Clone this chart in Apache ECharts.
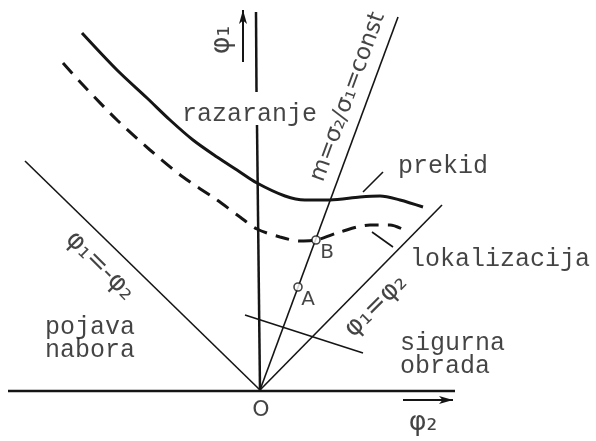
<!DOCTYPE html>
<html>
<head>
<meta charset="utf-8">
<script src="https://cdn.jsdelivr.net/npm/echarts@6/dist/echarts.min.js"></script>
<style>
  html, body { margin: 0; padding: 0; background: #fff; }
  #chart { width: 596px; height: 441px; }
</style>
</head>
<body>
<div id="chart"></div>
<script>
// strain plane, origin O at (0,0); phi2 to the right, phi1 up
const solidCurve = [
  [-1.78, 3.57], [-1.43, 3.20], [-1.13, 2.92], [-0.90, 2.70], [-0.67, 2.50],
  [-0.43, 2.33], [-0.23, 2.20], [-0.03, 2.07], [0.25, 1.94], [0.45, 1.90],
  [0.70, 1.90], [1.00, 1.93], [1.20, 1.94], [1.40, 1.90], [1.63, 1.83]
];
const dashedCurve = [
  [-1.97, 3.27], [-1.77, 3.05], [-1.43, 2.70], [-1.10, 2.40], [-0.77, 2.13],
  [-0.43, 1.90], [-0.20, 1.73], [-0.03, 1.61], [0.20, 1.53], [0.40, 1.49],
  [0.56, 1.50], [0.80, 1.58], [1.10, 1.65], [1.30, 1.65], [1.48, 1.58]
];
const axisPhi2 = [[-2.52, -0.01], [1.95, -0.01]];
const axisPhi1Top = [[-0.04, 3.78], [-0.035, 2.98]];
const axisPhi1Bottom = [[-0.03, 2.65], [0, 0]];
const arrowPhi1 = [[-0.17, 3.28], [-0.17, 3.80]];
const arrowPhi2 = [[1.43, -0.10], [1.93, -0.10]];
const lineNeg = [[-2.35, 2.29], [0, 0]];     // phi1 = -phi2
const lineEq = [[0, 0], [1.82, 1.85]];       // phi1 = phi2
const lineM = [[0, 0], [1.38, 3.73]];        // m = const
const leaderPrekid = [[1.03, 1.98], [1.23, 2.18]];
const leaderLokal = [[1.12, 1.58], [1.33, 1.43]];
const safeLimit = [[-0.15, 0.75], [1.03, 0.37]];
const points = [
  { name: 'A', at: [0.38, 1.03] },
  { name: 'B', at: [0.56, 1.50] }
];
const words = [
  { text: 'razaranje', at: [-0.78, 2.76] },
  { text: 'prekid', at: [1.38, 2.24] },
  { text: 'lokalizacija', at: [1.50, 1.31] },
  { text: 'sigurna\nobrada', at: [1.40, 0.35] },
  { text: 'pojava\nnabora', at: [-2.15, 0.51] }
];
const symbols = [
  { text: 'O', at: [0.01, -0.20], rot: 0, size: 22 },
  { text: 'A', at: [0.48, 0.90], rot: 0, size: 20 },
  { text: 'B', at: [0.67, 1.37], rot: 0, size: 20 },
  { text: 'φ₂', at: [1.63, -0.33], rot: 0, size: 27 },
  { text: 'φ₁', at: [-0.38, 3.50], rot: 90, size: 27 },
  { text: 'φ₁=-φ₂', at: [-1.60, 1.24], rot: -45, size: 26 },
  { text: 'φ₁=φ₂', at: [1.16, 0.84], rot: 45, size: 26 },
  { text: 'm=σ₂/σ₁=const', at: [0.88, 2.93], rot: 69.8, size: 23 }
];

const ink = '#151515';

function seg(data, width, extra) {
  return Object.assign({
    type: 'line',
    data: data,
    symbol: 'none',
    silent: true,
    lineStyle: { color: ink, width: width }
  }, extra || {});
}

function arrow(data) {
  return {
    type: 'line',
    silent: true,
    lineStyle: { color: ink, width: 2 },
    data: [
      { value: data[0], symbol: 'none' },
      { value: data[1], symbol: 'arrow', symbolSize: [6, 14],
        symbolRotate: data[1][0] > data[0][0] ? -90 : 0 }
    ],
    itemStyle: { color: ink }
  };
}

let chart = echarts.init(document.getElementById('chart'));

let option = {
  animation: false,
  backgroundColor: '#fff',
  grid: { left: 0, right: 0, top: 0, bottom: 0 },
  xAxis: { type: 'value', min: -2.6, max: 3.36, show: false },
  yAxis: { type: 'value', min: -0.51, max: 3.9, show: false },
  series: [
    seg(axisPhi2, 2.5),
    seg(axisPhi1Top, 2.5),
    seg(axisPhi1Bottom, 2.5),
    arrow(arrowPhi1),
    arrow(arrowPhi2),
    seg(lineNeg, 1.6),
    seg(lineEq, 1.6),
    seg(lineM, 1.6),
    seg(leaderPrekid, 1.6),
    seg(leaderLokal, 1.6),
    seg(safeLimit, 1.6),
    seg(solidCurve, 3, { smooth: 0.3 }),
    seg(dashedCurve, 3, {
      smooth: 0.3,
      lineStyle: { color: ink, width: 3, type: [14, 9] }
    }),
    {
      type: 'scatter',
      silent: true,
      symbol: 'circle',
      symbolSize: 8,
      itemStyle: { color: '#fff', borderColor: ink, borderWidth: 1.6 },
      data: points.map(p => ({ name: p.name, value: p.at })),
      z: 5
    },
    {
      type: 'scatter',
      silent: true,
      symbolSize: 0,
      data: words.map(w => ({ name: w.text, value: w.at })),
      label: {
        show: true,
        position: 'right',
        distance: 0,
        formatter: p => p.name,
        fontFamily: 'Liberation Mono',
        fontSize: 25,
        lineHeight: 23,
        color: ink
      }
    },
    {
      type: 'scatter',
      silent: true,
      symbolSize: 0,
      data: symbols.map(s => ({
        name: s.text,
        value: s.at,
        label: { rotate: s.rot, fontSize: s.size }
      })),
      label: {
        show: true,
        position: 'inside',
        formatter: p => p.name,
        fontFamily: 'DejaVu Sans',
        color: ink
      }
    }
  ]
};

option && chart.setOption(option);
</script>
</body>
</html>
